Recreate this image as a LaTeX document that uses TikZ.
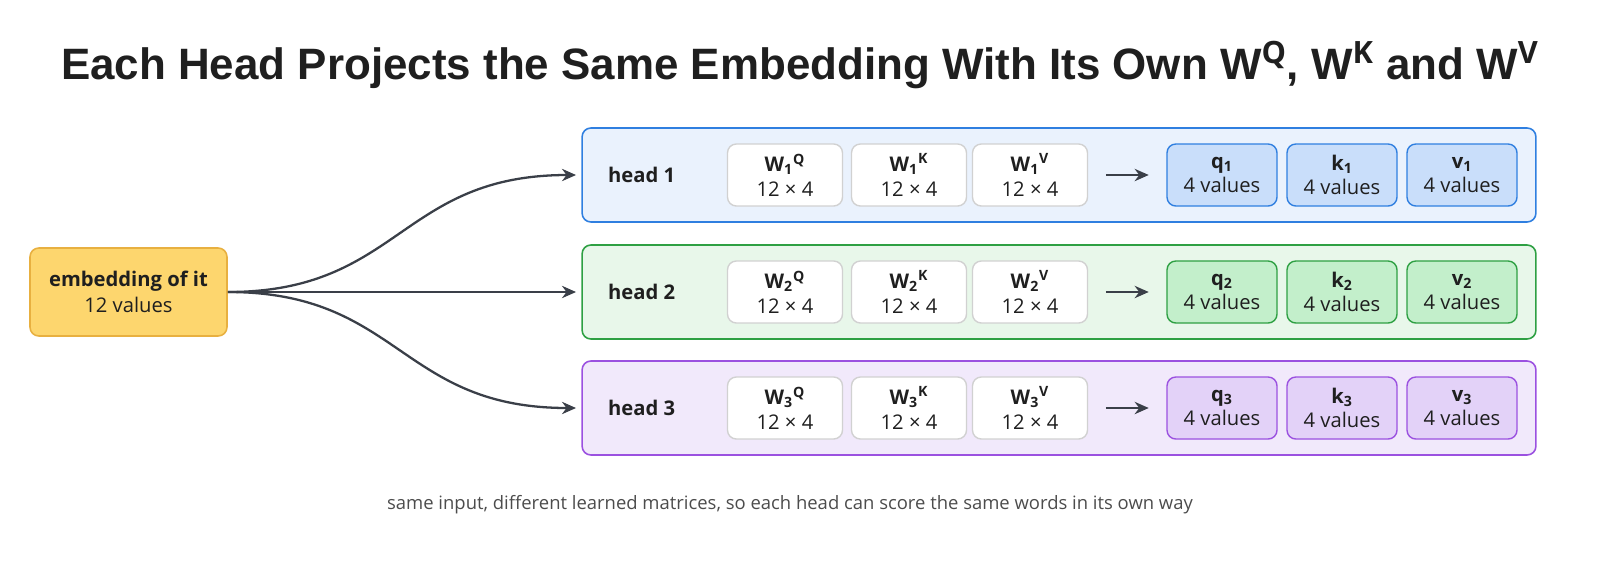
\documentclass[tikz,border=0pt]{standalone}
\usepackage{fontspec}
\setmainfont{Open Sans}
\newfontfamily\titlefont{Liberation Sans}
\usetikzlibrary{positioning,arrows.meta}
\definecolor{embfill}{HTML}{FDD66E}
\definecolor{embdraw}{HTML}{E8B040}
\definecolor{bluefill}{HTML}{EAF2FD}
\definecolor{bluedraw}{HTML}{2F7FE0}
\definecolor{blueout}{HTML}{C9DEFA}
\definecolor{greenfill}{HTML}{E8F7EA}
\definecolor{greendraw}{HTML}{2EA043}
\definecolor{greenout}{HTML}{C3EFCB}
\definecolor{purplefill}{HTML}{F1E9FB}
\definecolor{purpledraw}{HTML}{9B51E0}
\definecolor{purpleout}{HTML}{E3D2F8}
\definecolor{ink}{HTML}{1F1F1F}
\definecolor{wire}{HTML}{3A3F48}
\tikzset{
  headbox/.style={draw=#1draw, fill=#1fill, rounded corners=5pt, line width=0.9pt,
    minimum width=19.08cm, minimum height=1.88cm},
  wbox/.style={draw=black!18, fill=white, rounded corners=5pt, line width=0.8pt,
    minimum width=2.3cm, minimum height=1.24cm, align=center, font=\fontsize{11.5}{14}\selectfont, text=ink},
  outbox/.style={draw=#1draw, fill=#1out, rounded corners=5pt, line width=0.8pt,
    minimum width=2.2cm, minimum height=1.24cm, align=center, font=\fontsize{11.5}{14}\selectfont, text=ink},
  wirearrow/.style={wire, line width=1.3pt, -{Stealth[length=8pt,width=7pt]}}
}
\begin{document}
\begin{tikzpicture}[x=0.02cm,y=-0.02cm]
\useasboundingbox (0,0) rectangle (1600,562);
% title
\node[font=\titlefont\bfseries\fontsize{25}{29}\selectfont, text=ink] (title) at (800,65)
  {Each Head Projects the Same Embedding With Its Own W$^{\mathbf{Q}}$, W$^{\mathbf{K}}$ and W$^{\mathbf{V}}$};
% embedding
\node[draw=embdraw, fill=embfill, rounded corners=5pt, line width=0.9pt, minimum width=3.94cm,
  minimum height=1.76cm, align=center, font=\fontsize{11.5}{14.5}\selectfont, text=ink] (emb) at (128.5,292)
  {\textbf{embedding of it}\\12 values};
% heads
\foreach \i/\c/\y in {1/blue/175, 2/green/292, 3/purple/408} {
  \node[headbox=\c] (head\i) at (1059,\y) {};
  \node[font=\bfseries\fontsize{11.5}{14}\selectfont, text=ink, anchor=west] (lab\i) at (602,\y) {head \i};
  \node[wbox] (wq\i) at (785,\y) {\textbf{W$_{\mathbf{\i}}$$^{\mathbf{Q}}$}\\12 × 4};
  \node[wbox] (wk\i) at (909,\y) {\textbf{W$_{\mathbf{\i}}$$^{\mathbf{K}}$}\\12 × 4};
  \node[wbox] (wv\i) at (1030,\y) {\textbf{W$_{\mathbf{\i}}$$^{\mathbf{V}}$}\\12 × 4};
  \node[outbox=\c] (q\i) at (1222,\y) {\textbf{q$_{\mathbf{\i}}$}\\4 values};
  \node[outbox=\c] (k\i) at (1342,\y) {\textbf{k$_{\mathbf{\i}}$}\\4 values};
  \node[outbox=\c] (v\i) at (1462,\y) {\textbf{v$_{\mathbf{\i}}$}\\4 values};
  \draw[wirearrow] ([xshift=10pt]wv\i.east) -- ([xshift=-10pt]q\i.west);
  \draw[wirearrow] (emb.east) .. controls (400,292) and (400,\y) .. ([xshift=-3pt]head\i.west);
}
% caption
\node[font=\fontsize{10.5}{12}\selectfont, text=black!70] (note) at (790,505)
  {same input, different learned matrices, so each head can score the same words in its own way};
\end{tikzpicture}
\end{document}
